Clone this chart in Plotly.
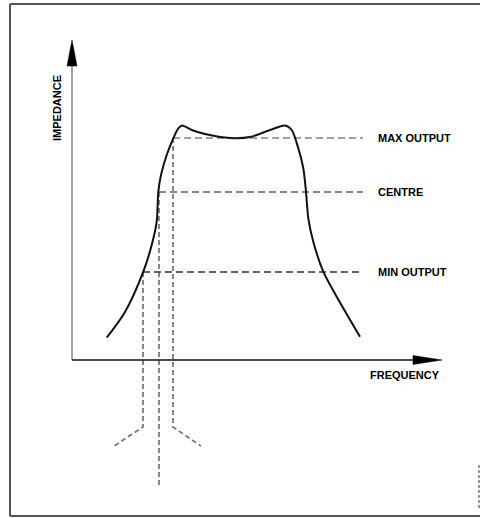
import plotly.graph_objects as go

# ---- data (schematic units: frequency right of y-axis, impedance above x-axis) ----
curve_freq = [34.7, 53, 71.3, 79.7, 84.7, 86.3, 89, 94.7, 101.3, 106.3, 110, 119.7, 133, 158,
              178, 198, 213, 219.7, 226.3, 231.3, 234, 236.3, 241.3, 251.3, 264.7, 288]
curve_imp = [22.3, 48, 88.3, 115, 138.3, 168.3, 185, 205, 221.7, 231.7, 234.5, 230, 226, 222,
             223, 230, 234.5, 230, 211.7, 191.7, 168.3, 141.7, 118.3, 88.3, 63.3, 23.3]

level_names = ["MAX OUTPUT", "CENTRE", "MIN OUTPUT"]
level_imp = [222, 168, 88]
level_freq = [101, 87, 71]          # where each level meets the rising edge
level_colors = ["#808080", "#606060", "#333333"]
level_end = 291                     # right end of the dashed level lines

drop_bottom = [-67, -128, -67]      # bottom of the vertical dashed drops
splay_freq = [129, None, 42]        # end of the splayed dashed tails
splay_imp = -86

x_label = "FREQUENCY"
y_label = "IMPEDANCE"
x_axis_end = 370
y_axis_end = 320

FONT = dict(family="Liberation Sans, Arial, sans-serif", size=11, color="#000000", weight=700)

fig = go.Figure()

# vertical dashed drops and splayed tails
for lf, li, lb, sf in zip(level_freq, level_imp, drop_bottom, splay_freq):
    xs, ys = [lf, lf], [li, lb]
    if sf is not None:
        xs.append(sf)
        ys.append(splay_imp)
    fig.add_trace(go.Scatter(x=xs, y=ys, mode="lines",
                             line=dict(color="#7a7a7a", width=1.8, dash="5px,3px"),
                             hoverinfo="skip", showlegend=False))

# horizontal dashed level lines
for lf, li, col in zip(level_freq, level_imp, level_colors):
    fig.add_trace(go.Scatter(x=[lf, level_end], y=[li, li], mode="lines",
                             line=dict(color=col, width=1.6, dash="7px,4px"),
                             hoverinfo="skip", showlegend=False))

# axes
fig.add_trace(go.Scatter(x=[0, 0], y=[0, y_axis_end - 20], mode="lines",
                         line=dict(color="#8c8c8c", width=1.6), hoverinfo="skip", showlegend=False))
fig.add_trace(go.Scatter(x=[0, x_axis_end - 20], y=[0, 0], mode="lines",
                         line=dict(color="#111111", width=1.4), hoverinfo="skip", showlegend=False))
# arrowheads
fig.add_trace(go.Scatter(x=[-5, 0, 5, -5], y=[y_axis_end - 26, y_axis_end, y_axis_end - 26, y_axis_end - 26],
                         mode="lines", fill="toself", fillcolor="#000000",
                         line=dict(color="#000000", width=0.5), hoverinfo="skip", showlegend=False))
fig.add_trace(go.Scatter(x=[x_axis_end - 29, x_axis_end, x_axis_end - 29, x_axis_end - 29], y=[4.5, 0, -4.5, 4.5],
                         mode="lines", fill="toself", fillcolor="#000000",
                         line=dict(color="#000000", width=0.5), hoverinfo="skip", showlegend=False))

# response curve
fig.add_trace(go.Scatter(x=curve_freq, y=curve_imp, mode="lines",
                         line=dict(color="#111111", width=2, shape="spline", smoothing=0.8),
                         hoverinfo="skip", showlegend=False))

# labels
for name, li in zip(level_names, level_imp):
    fig.add_annotation(x=304, y=li, text="<b>" + name + "</b>", showarrow=False, xanchor="left",
                       yanchor="middle", font=FONT)
fig.add_annotation(x=x_axis_end, y=-15, text="<b>" + x_label + "</b>", showarrow=False, xanchor="right",
                   yanchor="middle", font=FONT)
fig.add_annotation(x=-15, y=252, text="<b>" + y_label + "</b>", showarrow=False, textangle=-90,
                   xanchor="center", yanchor="middle", font=FONT)

# frame
W, H = 480, 518
shapes = [
    dict(type="line", xref="paper", yref="paper", x0=10 / W, x1=1, y0=1 - 4 / H, y1=1 - 4 / H,
         line=dict(color="#555555", width=2)),
    dict(type="line", xref="paper", yref="paper", x0=10 / W, x1=10 / W, y0=1 - 4 / H, y1=1 - 516 / H,
         line=dict(color="#555555", width=2)),
    dict(type="line", xref="paper", yref="paper", x0=10 / W, x1=1, y0=1 - 516 / H, y1=1 - 516 / H,
         line=dict(color="#555555", width=2)),
    dict(type="line", xref="paper", yref="paper", x0=479 / W, x1=479 / W, y0=1 - 465 / H, y1=1 - 508 / H,
         line=dict(color="#777777", width=1.5, dash="3px,2px")),
]

fig.update_layout(
    width=W, height=H,
    margin=dict(l=0, r=0, t=0, b=0),
    paper_bgcolor="white", plot_bgcolor="white",
    xaxis=dict(range=[-72, 408], visible=False, fixedrange=True),
    yaxis=dict(range=[-158, 360], visible=False, fixedrange=True),
    shapes=shapes,
    showlegend=False,
)

fig.write_html("out.html", config={"displayModeBar": False},
               post_script="document.body.style.margin='0';document.body.style.overflow='hidden';")
